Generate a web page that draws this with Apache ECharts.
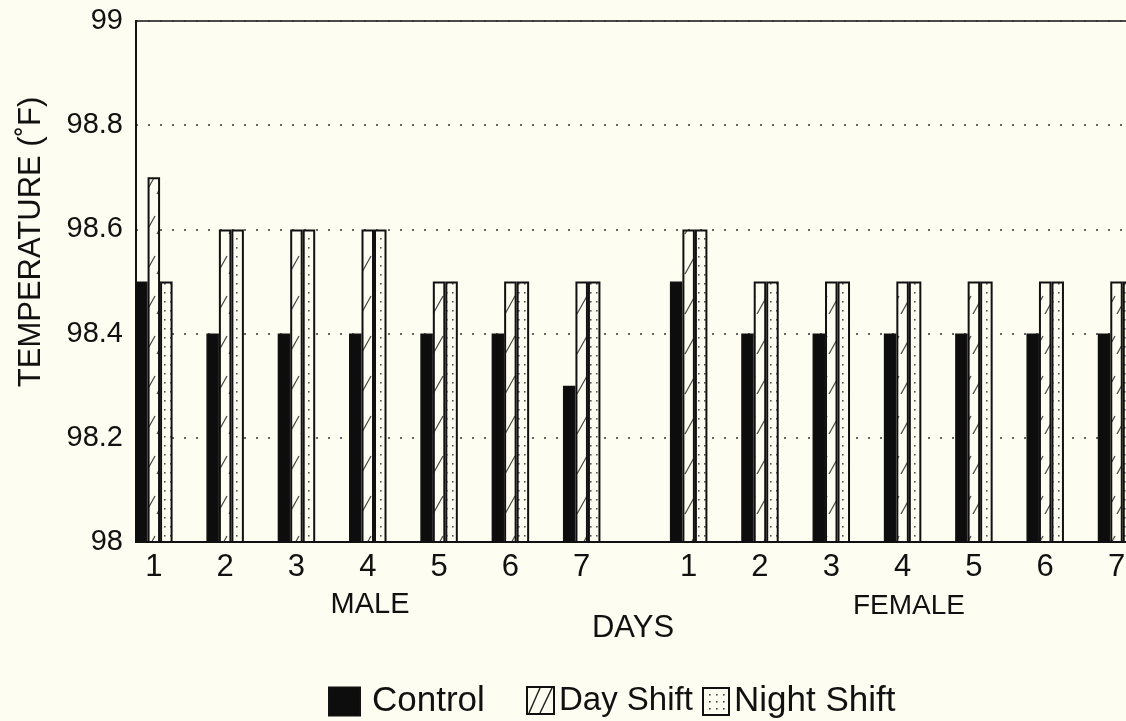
<!DOCTYPE html>
<html>
<head>
<meta charset="UTF-8">
<title>Temperature by shift</title>
<script src="https://cdn.jsdelivr.net/npm/echarts@6/dist/echarts.min.js"></script>
<style>
  html, body { margin: 0; padding: 0; background: #fdfdf1; }
  #main { width: 1126px; height: 721px; }
</style>
</head>
<body>
<div id="main"></div>
<script>
// day labels, same for both groups
var days = ['1', '2', '3', '4', '5', '6', '7'];
var femaleOffset = 7.5;   // female days sit after a wider gap on the x scale

var maleControl = [98.5, 98.4, 98.4, 98.4, 98.4, 98.4, 98.3];
var maleDay     = [98.7, 98.6, 98.6, 98.6, 98.5, 98.5, 98.5];
var maleNight   = [98.5, 98.6, 98.6, 98.6, 98.5, 98.5, 98.5];
var femaleControl = [98.5, 98.4, 98.4, 98.4, 98.4, 98.4, 98.4];
var femaleDay     = [98.6, 98.5, 98.5, 98.5, 98.5, 98.5, 98.5];
var femaleNight   = [98.6, 98.5, 98.5, 98.5, 98.5, 98.5, 98.5];

var yTicks = ['98', '98.2', '98.4', '98.6', '98.8', '99'];

var bg = '#fdfdf1';
var ink = '#111';
var font = '"Liberation Sans", Arial, sans-serif';

function pairs(male, female) {
    var out = [];
    for (var i = 0; i < days.length; i++) out.push([i + 1, male[i]]);
    for (var j = 0; j < days.length; j++) out.push([j + 1 + femaleOffset, female[j]]);
    return out;
}

// hatch pattern for day shift
function hatchPattern() {
    var c = document.createElement('canvas');
    c.width = 12; c.height = 40;
    var ctx = c.getContext('2d');
    ctx.fillStyle = bg; ctx.fillRect(0, 0, 12, 40);
    ctx.strokeStyle = '#444'; ctx.lineWidth = 1.2;
    ctx.beginPath(); ctx.moveTo(1, 34); ctx.lineTo(11, 16); ctx.stroke();
    return c;
}
// dotted pattern for night shift
function dotPattern() {
    var c = document.createElement('canvas');
    c.width = 6; c.height = 9;
    var ctx = c.getContext('2d');
    ctx.fillStyle = bg; ctx.fillRect(0, 0, 6, 9);
    ctx.fillStyle = '#555';
    ctx.fillRect(2, 4, 1.6, 1.6);
    return c;
}
// legend swatches: one diagonal / a 3x3 dot grid
function legendHatch() {
    var c = document.createElement('canvas');
    c.width = 27; c.height = 27;
    var ctx = c.getContext('2d');
    ctx.fillStyle = bg; ctx.fillRect(0, 0, 27, 27);
    ctx.strokeStyle = '#222'; ctx.lineWidth = 1.5;
    ctx.beginPath(); ctx.moveTo(2, 26); ctx.lineTo(13, 1); ctx.stroke();
    ctx.beginPath(); ctx.moveTo(13, 26); ctx.lineTo(25, 1); ctx.stroke();
    return c;
}
function legendDots() {
    var c = document.createElement('canvas');
    c.width = 27; c.height = 27;
    var ctx = c.getContext('2d');
    ctx.fillStyle = bg; ctx.fillRect(0, 0, 27, 27);
    ctx.fillStyle = '#444';
    for (var i = 0; i < 3; i++) for (var j = 0; j < 3; j++) ctx.fillRect(6 + i * 7, 6 + j * 7, 1.6, 1.6);
    return c;
}

function legendText(size, padLeft) {
    return { fontSize: size, color: ink, fontFamily: font, padding: [0, 0, 0, padLeft] };
}

var myChart = echarts.init(document.getElementById('main'));
var option = {
    backgroundColor: bg,
    animation: false,
    textStyle: { fontFamily: font, color: ink },
    grid: {
        left: 136, top: 21, right: -44, height: 521,
        outerBoundsMode: 'none', containLabel: false,
        show: true, borderColor: ink, borderWidth: 1.5, backgroundColor: 'transparent'
    },
    legend: [
        {
            left: 323, top: 679, icon: 'rect', itemWidth: 31, itemHeight: 28,
            textStyle: legendText(35, 7),
            data: ['Control']
        },
        {
            left: 521, top: 679, icon: 'rect', itemWidth: 27, itemHeight: 27,
            textStyle: legendText(33, 0),
            data: [{ name: 'Day Shift', itemStyle: { color: { image: legendHatch(), repeat: 'no-repeat' } } }]
        },
        {
            left: 697, top: 679, icon: 'rect', itemWidth: 26, itemHeight: 27,
            textStyle: legendText(35, 0),
            data: [{ name: 'Night Shift', itemStyle: { color: { image: legendDots(), repeat: 'no-repeat' } } }]
        }
    ],
    xAxis: {
        type: 'value', min: 0.75, max: 15.25, interval: 0.25,
        axisLine: { show: true, onZero: false, lineStyle: { color: ink, width: 2 } },
        axisTick: { show: false },
        splitLine: { show: false },
        axisLabel: {
            fontSize: 31, color: ink, margin: 10, fontFamily: font,
            showMinLabel: true, showMaxLabel: true,
            formatter: function (v) {
                var r = Math.round(v * 4) / 4;
                if (r % 1 === 0 && r >= 1 && r <= days.length) return days[r - 1];
                var f = r - femaleOffset;
                if (f % 1 === 0 && f >= 1 && f <= days.length) return days[f - 1];
                return '';
            }
        }
    },
    yAxis: {
        type: 'value', min: 98, max: 99, interval: 0.2,
        axisLine: { show: true, lineStyle: { color: ink, width: 2 } },
        axisTick: { show: false },
        axisLabel: {
            fontSize: 29, color: ink, margin: 13, fontFamily: font,
            formatter: function (v) { return yTicks[Math.round((v - 98) / 0.2)]; }
        },
        splitLine: { show: true, lineStyle: { color: '#333', width: 1.5, type: [2, 10] } }
    },
    graphic: [
        {
            type: 'text', x: 31, y: 242, rotation: Math.PI / 2,
            style: { text: 'TEMPERATURE (˚F)', fontSize: 31, fill: ink, fontFamily: font, align: 'center', verticalAlign: 'middle' }
        },
        { type: 'text', x: 370, y: 605, style: { text: 'MALE', fontSize: 29, fill: ink, fontFamily: font, align: 'center', verticalAlign: 'middle' } },
        { type: 'text', x: 909, y: 606, style: { text: 'FEMALE', fontSize: 28, fill: ink, fontFamily: font, align: 'center', verticalAlign: 'middle' } },
        { type: 'text', x: 633, y: 628, style: { text: 'DAYS', fontSize: 31, fill: ink, fontFamily: font, align: 'center', verticalAlign: 'middle' } }
    ],
    series: [
        {
            name: 'Control', type: 'bar', barWidth: 12.5, barGap: '0%',
            itemStyle: { color: '#0d0d0d', borderColor: ink, borderWidth: 1.5 },
            data: pairs(maleControl, femaleControl)
        },
        {
            name: 'Day Shift', type: 'bar', barWidth: 12.5, barGap: '0%',
            itemStyle: { color: { image: hatchPattern(), repeat: 'repeat' }, borderColor: ink, borderWidth: 2 },
            data: pairs(maleDay, femaleDay)
        },
        {
            name: 'Night Shift', type: 'bar', barWidth: 12.5, barGap: '0%',
            itemStyle: { color: { image: dotPattern(), repeat: 'repeat' }, borderColor: ink, borderWidth: 2 },
            data: pairs(maleNight, femaleNight)
        }
    ]
};
myChart.setOption(option);
</script>
</body>
</html>
